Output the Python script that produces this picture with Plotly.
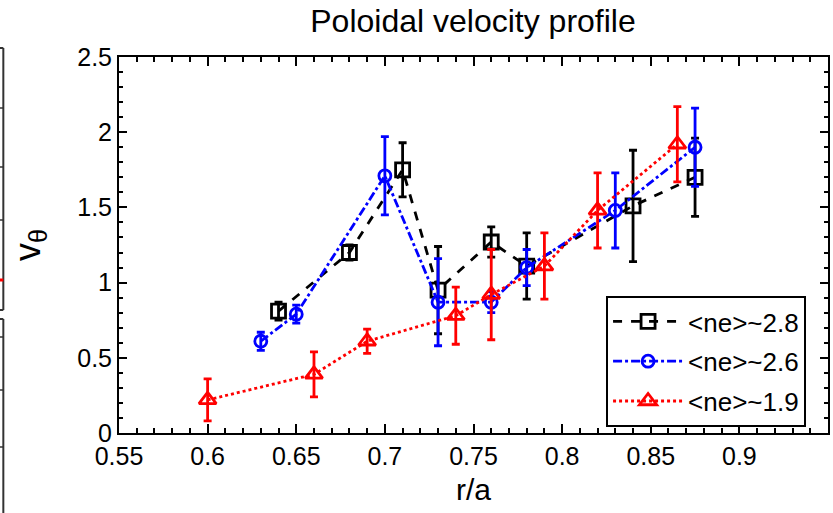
import plotly.graph_objects as go

# ---- data ----
r_hi = [0.64, 0.68, 0.71, 0.73, 0.76, 0.78, 0.84, 0.875]
v_hi = [0.81, 1.20, 1.75, 0.95, 1.27, 1.11, 1.51, 1.70]
e_hi = [0.06, 0.05, 0.18, 0.29, 0.10, 0.22, 0.37, 0.26]

r_mid = [0.63, 0.65, 0.70, 0.73, 0.76, 0.78, 0.83, 0.875]
v_mid = [0.61, 0.79, 1.71, 0.87, 0.87, 1.10, 1.48, 1.90]
e_mid = [0.06, 0.06, 0.26, 0.29, 0.07, 0.12, 0.25, 0.26]

r_lo = [0.60, 0.66, 0.69, 0.74, 0.76, 0.79, 0.82, 0.865]
v_lo = [0.22, 0.39, 0.61, 0.78, 0.92, 1.11, 1.48, 1.92]
e_lo = [0.14, 0.15, 0.08, 0.19, 0.30, 0.22, 0.25, 0.25]

labels = ["&lt;ne&gt;~2.8", "&lt;ne&gt;~2.6", "&lt;ne&gt;~1.9"]

x_ticks = [0.55, 0.6, 0.65, 0.7, 0.75, 0.8, 0.85, 0.9]
x_ticktext = ["0.55", "0.6", "0.65", "0.7", "0.75", "0.8", "0.85", "0.9"]
y_ticks = [0, 0.5, 1, 1.5, 2, 2.5]
y_ticktext = ["0", "0.5", "1", "1.5", "2", "2.5"]

FONT = "Liberation Sans, Arial, sans-serif"

fig = go.Figure()

series = [
    (r_hi, v_hi, e_hi, labels[0], "black", "dash", "square-open", 14, "g1"),
    (r_mid, v_mid, e_mid, labels[1], "#0000ff", "dashdot", "circle-open", 12, "g2"),
    (r_lo, v_lo, e_lo, labels[2], "#ff0000", "dot", "triangle-up-open", 15, "g3"),
]
for x, y, e, name, col, dash, sym, ms, grp in series:
    fig.add_trace(go.Scatter(
        x=x, y=y, name=name, mode="lines+markers", legendgroup=grp,
        line=dict(color=col, width=2.8, dash=dash),
        marker=dict(symbol=sym, size=ms, color=col, line=dict(color=col, width=2.8)),
        error_y=dict(type="data", array=e, visible=True, color=col,
                     thickness=2.8, width=4),
    ))

# partial neighbour panel at left edge (paper coords)
def px2x(px):
    return (px - 119) / 711.0

def py2y(py):
    return (433 - py) / 376.0

shapes = []
lc = dict(color="#333333", width=2)
shapes.append(dict(type="line", xref="paper", yref="paper",
                   x0=px2x(3), x1=px2x(3), y0=py2y(48), y1=py2y(310), line=lc))
shapes.append(dict(type="line", xref="paper", yref="paper",
                   x0=px2x(3), x1=px2x(3), y0=py2y(319), y1=py2y(513), line=lc))
for yy in [48, 310, 319]:
    shapes.append(dict(type="line", xref="paper", yref="paper",
                       x0=px2x(-2), x1=px2x(3), y0=py2y(yy), y1=py2y(yy), line=lc))
for yy in [108, 167, 220, 337, 390, 447]:
    shapes.append(dict(type="line", xref="paper", yref="paper",
                       x0=px2x(-2), x1=px2x(3), y0=py2y(yy), y1=py2y(yy),
                       line=dict(color="#333333", width=1.5)))
shapes.append(dict(type="line", xref="paper", yref="paper",
                   x0=px2x(-2), x1=px2x(3), y0=py2y(280), y1=py2y(280),
                   line=dict(color="#ff0000", width=3)))

fig.update_layout(
    width=833, height=513,
    margin=dict(l=119, r=3, t=57, b=80),
    paper_bgcolor="white", plot_bgcolor="white",
    font=dict(family=FONT, color="black", size=24),
    title=dict(text="Poloidal velocity profile", x=(473 / 833), xanchor="center",
               y=1 - 21 / 513, yanchor="middle", yref="container",
               font=dict(size=32, family=FONT, color="black")),
    showlegend=True,
    legend=dict(x=px2x(808), xanchor="right", y=py2y(427), yanchor="bottom",
                bgcolor="white", bordercolor="black", borderwidth=2,
                font=dict(size=26, family=FONT, color="black"),
                itemwidth=70, tracegroupgap=3),
    shapes=shapes,
)

fig.update_xaxes(
    range=[0.55, 0.95], tickmode="array", tickvals=x_ticks, ticktext=x_ticktext,
    ticks="inside", ticklen=9, tickwidth=1.5, tickcolor="black",
    minor=dict(dtick=0.01, ticks="inside", ticklen=5, tickwidth=1.5, tickcolor="black"),
    showline=True, linecolor="black", linewidth=2, mirror="allticks",
    showgrid=False, zeroline=False,
    tickfont=dict(size=25, family=FONT),
    title=dict(text="r/a", font=dict(size=30, family=FONT), standoff=10),
)
fig.update_yaxes(
    range=[0, 2.5], tickmode="array", tickvals=y_ticks, ticktext=y_ticktext,
    ticks="inside", ticklen=8, tickwidth=1.5, tickcolor="black",
    minor=dict(dtick=0.1, ticks="inside", ticklen=4, tickwidth=1.5, tickcolor="black"),
    showline=True, linecolor="black", linewidth=2, mirror="allticks",
    showgrid=False, zeroline=False,
    tickfont=dict(size=25, family=FONT),
    title=dict(text="v<sub>θ</sub>", font=dict(size=36, family=FONT), standoff=26),
)

fig.write_html("out.html")
